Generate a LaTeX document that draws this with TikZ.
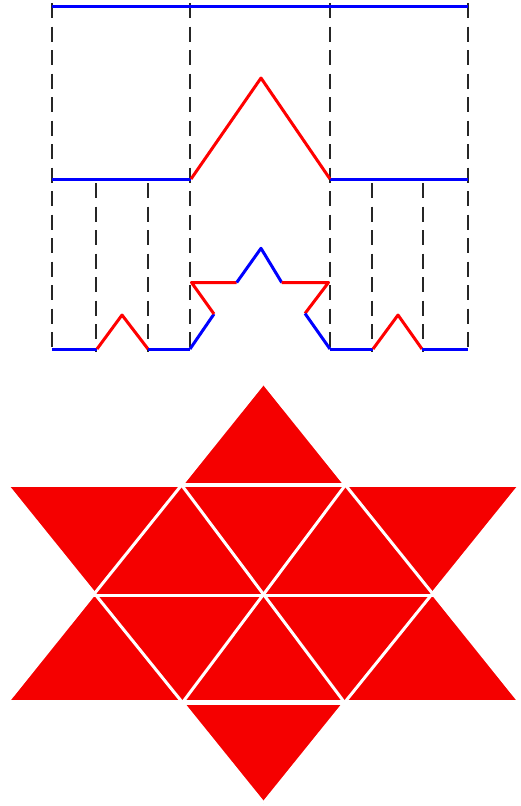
\documentclass[tikz,border=0pt]{standalone}
\usepackage{amsmath}
\usepackage{tikz}
\definecolor{starred}{RGB}{245,0,0}

\begin{document}
\begin{tikzpicture}[x=1pt,y=-1pt,
		guide/.style={black!85,line width=1.8pt,dash pattern=on 15pt off 8.5pt},
		blueseg/.style={blue,line width=3pt,line join=round},
		redseg/.style={red,line width=3pt,line join=round},
		gap/.style={white,line width=3pt}]
	\useasboundingbox (0,0) rectangle (521,806);
	
	% dashed guides
	\foreach \x in {52,190,330,468}
		\draw[guide] (\x,3) -- (\x,352);
	\foreach \x in {96,148,372,423}
		\draw[guide] (\x,183) -- (\x,352);
	
	% first step
	\draw[blueseg] (52,6) -- (468,6);
	\draw[blueseg] (52,179) -- (191,179);
	\draw[blueseg] (330,179) -- (468,179);
	\draw[redseg] (191,179) -- (261,78) -- (330,179);
	
	% second step
	\draw[blueseg] (52,349) -- (97,349);
	\draw[redseg] (97,349) -- (122,315) -- (148,349);
	\draw[blueseg] (148,349) -- (190,349);
	\draw[blueseg] (330,349) -- (373,349);
	\draw[redseg] (373,349) -- (398,315) -- (422,349);
	\draw[blueseg] (422,349) -- (468,349);
	
	\draw[blueseg] (190,349) -- (214,314);
	\draw[redseg] (214,314) -- (191.5,282.5) -- (236.7,282.5);
	\draw[blueseg] (236.7,282.5) -- (261,248.3) -- (281.7,282.5);
	\draw[redseg] (281.7,282.5) -- (328.5,282.5) -- (305,313.5);
	\draw[blueseg] (305,313.5) -- (330,349);
	
	% star
	\fill[starred] (263.5,383) -- (7,702.5) -- (520,702.5) -- cycle;
	\fill[starred] (7,485) -- (520,485) -- (263.5,803) -- cycle;
	\draw[gap] (263.5,383) -- (7,702.5);
	\draw[gap] (263.5,383) -- (520,702.5);
	\draw[gap] (7,485) -- (263.5,803);
	\draw[gap] (520,485) -- (263.5,803);
	\draw[gap,line width=4.5pt] (0,485) -- (521,485);
	\draw[gap,line width=4.5pt] (0,702.5) -- (521,702.5);
	\draw[gap] (80,595) -- (445,595);
	\draw[gap] (181.6,485) -- (344.5,702.5);
	\draw[gap] (345.4,485) -- (182.5,702.5);
\end{tikzpicture}
\end{document}
